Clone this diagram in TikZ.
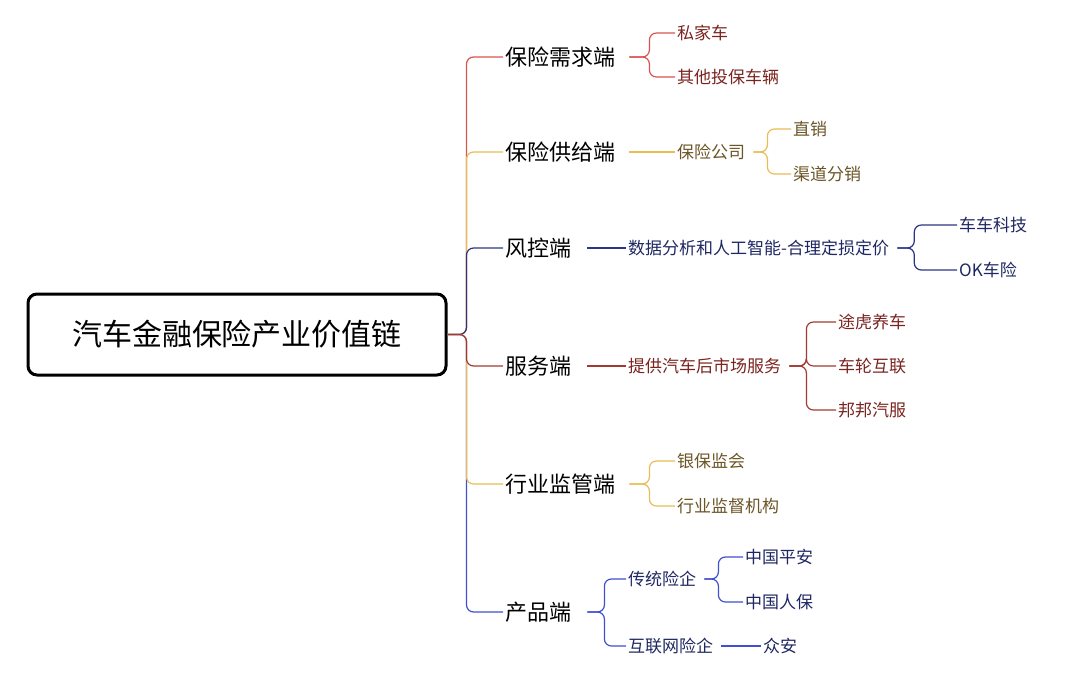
\documentclass[tikz,border=0pt]{standalone}
\usepackage{fontspec}
\setmainfont{Noto Sans CJK SC}
\usetikzlibrary{positioning, calc}

\definecolor{cRed}{HTML}{D9534F}
\definecolor{cDarkRed}{HTML}{A33A32}
\definecolor{cGold}{HTML}{E9BC55}
\definecolor{cNavy}{HTML}{2C3585}
\definecolor{cBlue}{HTML}{3F4FCF}
\definecolor{tRed}{HTML}{7A2420}
\definecolor{tGold}{HTML}{6B5526}
\definecolor{tNavy}{HTML}{1F2762}

\begin{document}
\begin{tikzpicture}[x=1pt, y=-1pt,
    root/.style={draw, line width=3pt, rounded corners=9pt, minimum width=418pt, minimum height=81pt, font=\fontsize{30}{34}\selectfont},
    branch/.style={anchor=west, inner sep=2pt, font=\fontsize{22}{26}\selectfont},
    leaf/.style={anchor=west, inner sep=2pt, font=\fontsize{17}{20}\selectfont},
    link/.style={line width=1.2pt, rounded corners=7pt},
    edge/.style={line width=1.2pt}
]
\useasboundingbox (0,0) rectangle (1080,675);

% Wurzel
\node[root] (root) at (237,334.5) {汽车金融保险产业价值链};

% Hauptzweige
\node[branch] (demand) at (503,57) {保险需求端};
\node[branch] (supply) at (503,152) {保险供给端};
\node[branch] (risk) at (503,248) {风控端};
\node[branch] (service) at (503,366) {服务端};
\node[branch] (regulate) at (503,484) {行业监管端};
\node[branch] (product) at (503,612) {产品端};

% Verbindungen zur Wurzel
\draw[link, cRed] (root.east) -- ++(19,0) |- (demand.west);
\draw[link, cGold] (root.east) -- ++(19,0) |- (supply.west);
\draw[link, cNavy] (root.east) -- ++(19,0) |- (risk.west);
\draw[link, cBlue] (root.east) -- ++(19,0) |- (product.west);
\draw[link, cGold] (root.east) -- ++(19,0) |- (regulate.west);
\draw[link, cDarkRed] (root.east) -- ++(19,0) |- (service.west);

% Nachfrage
\node[leaf, tRed] (private) at (675,33) {私家车};
\node[leaf, tRed] (othercar) at (675,77) {其他投保车辆};
\foreach \c in {private, othercar}
  \draw[link, cRed] ($(demand.east)+(12,0)$) -- ++(20,0) |- (\c.west);

% Angebot
\node[leaf, tGold] (insurer) at (675,152) {保险公司};
\draw[edge, cGold] ($(supply.east)+(12,0)$) -- (insurer.west);
\node[leaf, tGold] (direct) at (791,129) {直销};
\node[leaf, tGold] (channel) at (791,174) {渠道分销};
\foreach \c in {direct, channel}
  \draw[link, cGold] ($(insurer.east)+(6,0)$) -- ++(14,0) |- (\c.west);

% Risikokontrolle
\node[leaf, tNavy] (data) at (626,248) {数据分析和人工智能-合理定损定价};
\draw[edge, cNavy] ($(risk.east)+(14,0)$) -- (data.west);
\node[leaf, tNavy] (chechen) at (957,225) {车车科技};
\node[leaf, tNavy] (okins) at (957,270) {OK车险};
\foreach \c in {chechen, okins}
  \draw[link, cNavy] ($(data.east)+(6,0)$) -- ++(17,0) |- (\c.west);

% Service
\node[leaf, tRed] (after) at (626,366) {提供汽车后市场服务};
\draw[edge, cDarkRed] ($(service.east)+(14,0)$) -- (after.west);
\node[leaf, tRed] (tuhu) at (836,322) {途虎养车};
\node[leaf, tRed] (chelun) at (836,366) {车轮互联};
\node[leaf, tRed] (bangbang) at (836,410) {邦邦汽服};
\foreach \c in {tuhu, chelun, bangbang}
  \draw[link, cDarkRed] ($(after.east)+(6,0)$) -- ++(17,0) |- (\c.west);

% Aufsicht
\node[leaf, tGold] (cbirc) at (675,461) {银保监会};
\node[leaf, tGold] (superv) at (675,506) {行业监督机构};
\foreach \c in {cbirc, superv}
  \draw[link, cGold] ($(regulate.east)+(12,0)$) -- ++(20,0) |- (\c.west);

% Produkte
\node[leaf, tNavy] (trad) at (626,579) {传统险企};
\node[leaf, tNavy] (online) at (626,646) {互联网险企};
\foreach \c in {trad, online}
  \draw[link, cBlue] ($(product.east)+(14,0)$) -- ++(17,0) |- (\c.west);
\node[leaf, tNavy] (pingan) at (743,557) {中国平安};
\node[leaf, tNavy] (picc) at (743,602) {中国人保};
\foreach \c in {pingan, picc}
  \draw[link, cBlue] ($(trad.east)+(6,0)$) -- ++(14,0) |- (\c.west);
\node[leaf, tNavy] (zhongan) at (761,646) {众安};
\draw[edge, cBlue] ($(online.east)+(6,0)$) -- (zhongan.west);

\end{tikzpicture}
\end{document}
